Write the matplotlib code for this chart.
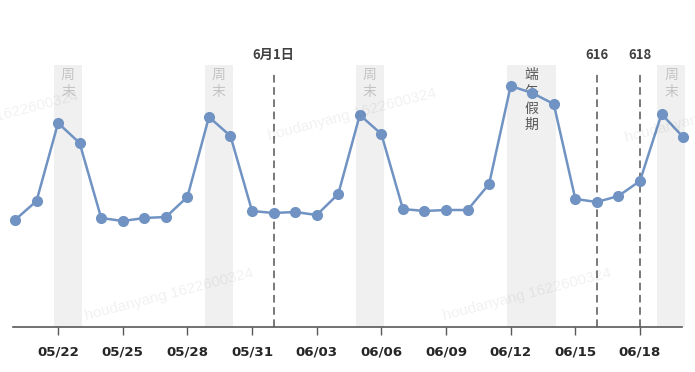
import pandas as pd
import matplotlib
matplotlib.use('Agg')
import matplotlib.pyplot as plt
import matplotlib.dates as mdates

# daily values, 05/20 - 06/20
dates = pd.date_range('2021-05-20', '2021-06-20', freq='D')
values = [107, 126, 204, 184, 109, 106, 109, 110, 130, 210, 191,
          116, 114, 115, 112, 133, 212, 193, 118, 116, 117, 117,
          143, 241, 234, 223, 128, 125, 131, 146, 213, 190]
tick_dates = dates[2::3]

weekends = [('2021-05-22', '2021-05-23'), ('2021-05-29', '2021-05-30'),
            ('2021-06-05', '2021-06-06'), ('2021-06-19', '2021-06-20')]
holiday = ('2021-06-12', '2021-06-14')
events = [('2021-06-01', '6月1日'), ('2021-06-16', '616'), ('2021-06-18', '618')]

W, H = 695, 372
fig = plt.figure(figsize=(W / 100, H / 100), dpi=100)
ax = fig.add_axes([13 / W, 45 / H, 669 / W, 327 / H])

cjk = ['Noto Sans CJK SC', 'DejaVu Sans']
line_color = '#7093c3'

def span(start, end, **kw):
    s = pd.Timestamp(start) - pd.Timedelta(hours=4.5)
    e = pd.Timestamp(end) + pd.Timedelta(hours=2.5)
    ax.fill_between([s, e], 0, 262, color='#f0f0f0', lw=0, zorder=0, clip_on=False)
    return s + (e - s) / 2

for s, e in weekends:
    mid = span(s, e)
    ax.text(mid, 259, '周\n末', ha='center', va='top', fontsize=10,
            linespacing=1.25, color='#c3c3c3', family=cjk, zorder=1)

mid = span(*holiday)
ax.text(mid, 259, '端\n午\n假\n期', ha='center', va='top', fontsize=10,
        linespacing=1.25, color='#595959', family=cjk, zorder=1)

for d, label in events:
    d = pd.Timestamp(d)
    ax.plot([d, d], [0, 255], color='#555555', lw=1.1, ls=(0, (5, 3)), zorder=2)
    ax.text(d, 272, label, ha='center', va='center', fontsize=9.5,
            fontweight='bold', color='#404040', family=cjk)

ax.plot(dates, values, color=line_color, lw=1.8, marker='o', ms=7,
        zorder=3, clip_on=False)

ax.set_xlim(dates[0] - pd.Timedelta(hours=2.2), dates[0] + pd.Timedelta(hours=30.95 * 24))
ax.set_ylim(0, 327)
ax.set_xticks(tick_dates)
ax.xaxis.set_major_formatter(mdates.DateFormatter('%m/%d'))
ax.set_yticks([])
for side in ['left', 'right', 'top']:
    ax.spines[side].set_visible(False)
ax.spines['bottom'].set_color('#595959')
ax.spines['bottom'].set_linewidth(1.2)
ax.tick_params(axis='x', length=6, width=1, color='#595959', pad=7,
               labelsize=9.6, labelcolor='#262626')
for lab in ax.get_xticklabels():
    lab.set_fontweight('bold')

# faint watermarks
for x, y in [(-6, 118), (352, 115), (709, 117), (169, 295), (527, 295)]:
    fig.text(x / W, 1 - y / H, 'houdanyang 1622600324', ha='center', va='center',
             rotation=14.5, fontsize=11, color='black', alpha=0.06,
             family='Liberation Sans')

fig.savefig('out.png', dpi=100)
